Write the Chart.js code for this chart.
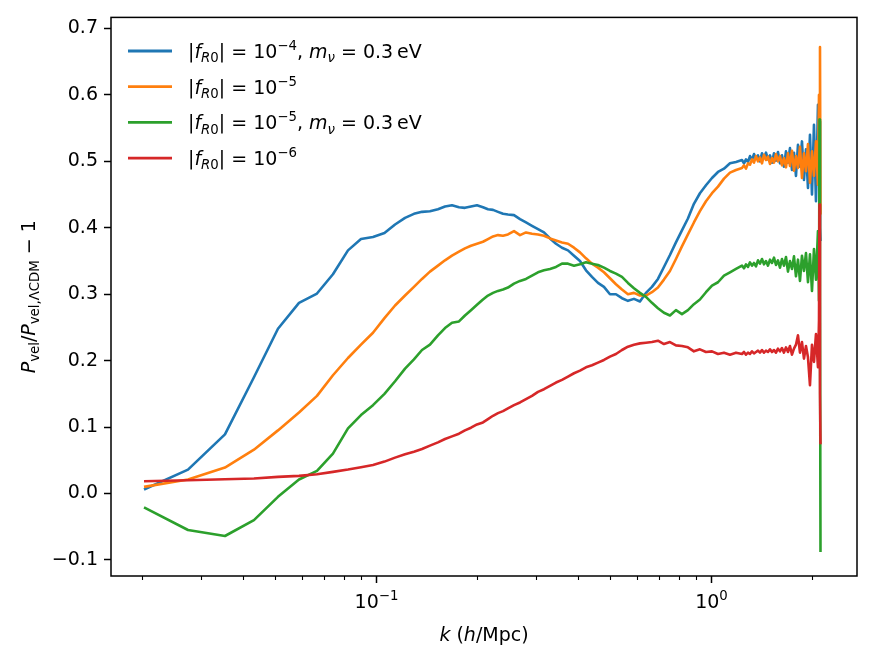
<!DOCTYPE html>
<html>
<head>
<meta charset="utf-8">
<script src="https://cdn.jsdelivr.net/npm/chart.js@4.4.0/dist/chart.umd.min.js"></script>
<style>
  body { margin: 0; background: #fff; }
  canvas { display: block; }
</style>
</head>
<body>
<canvas id="chart" width="878" height="661"></canvas>
<script>
'use strict';

// k values (h/Mpc), shared by all four curves; denser in the noisy tail
var kValues = [
  0.02030, 0.02747, 0.03541, 0.04322, 0.05098, 0.05891, 0.06666, 0.07439, 0.08249, 0.09020,
  0.09796, 0.1060, 0.1140, 0.1221, 0.1298, 0.1372, 0.1449, 0.1531, 0.1607, 0.1686,
  0.1769, 0.1843, 0.1921, 0.2002, 0.2086, 0.2159, 0.2235, 0.2313, 0.2394, 0.2477,
  0.2582, 0.2691, 0.2804, 0.2922, 0.3045, 0.3173, 0.3307, 0.3446, 0.3591, 0.3742,
  0.3900, 0.4064, 0.4235, 0.4413, 0.4599, 0.4792, 0.4994, 0.5204, 0.5423, 0.5651,
  0.5889, 0.6137, 0.6395, 0.6664, 0.6945, 0.7237, 0.7542, 0.7859, 0.8190, 0.8534,
  0.8893, 0.9268, 0.9661, 1.0069, 1.0493, 1.0935, 1.1395, 1.1875,
  1.2374, 1.2545, 1.2719, 1.2895, 1.3073, 1.3254, 1.3438, 1.3624, 1.3812, 1.4003,
  1.4197, 1.4394, 1.4593, 1.4795, 1.5000, 1.5207, 1.5418, 1.5631, 1.5847, 1.6067,
  1.6289, 1.6514, 1.6743, 1.6975, 1.7210, 1.7448, 1.7690, 1.7934, 1.8183, 1.8434,
  1.8689, 1.8948, 1.9210, 1.9476, 1.9745, 2.0019, 2.0296, 2.0577, 2.0861,
  2.1008, 2.1080, 2.1153, 2.1226
];

var fR4nu = [
  0.006, 0.036, 0.089, 0.175, 0.248, 0.287, 0.301, 0.330, 0.366, 0.383,
  0.386, 0.392, 0.405, 0.415, 0.421, 0.424, 0.425, 0.428, 0.432, 0.434,
  0.431, 0.430, 0.432, 0.434, 0.431, 0.428, 0.427, 0.424, 0.421, 0.420,
  0.419, 0.413, 0.408, 0.403, 0.398, 0.393, 0.384, 0.376, 0.370, 0.366,
  0.358, 0.350, 0.336, 0.326, 0.317, 0.311, 0.300, 0.300, 0.294, 0.290,
  0.293, 0.289, 0.302, 0.311, 0.323, 0.341, 0.359, 0.378, 0.396, 0.414,
  0.436, 0.452, 0.464, 0.475, 0.484, 0.489, 0.497, 0.499,
  0.502, 0.497, 0.503, 0.499, 0.508, 0.502, 0.511, 0.504, 0.509, 0.500,
  0.512, 0.505, 0.513, 0.503, 0.509, 0.498, 0.512, 0.501, 0.514, 0.497,
  0.509, 0.492, 0.515, 0.498, 0.520, 0.487, 0.513, 0.478, 0.525, 0.492,
  0.530, 0.472, 0.518, 0.460, 0.540, 0.450, 0.555, 0.440, 0.585,
  0.470, 0.560, 0.400, 0.380
];

var fR5 = [
  0.010, 0.021, 0.039, 0.066, 0.095, 0.122, 0.147, 0.178, 0.204, 0.224,
  0.242, 0.264, 0.283, 0.298, 0.311, 0.323, 0.334, 0.343, 0.351, 0.358,
  0.364, 0.369, 0.373, 0.376, 0.379, 0.383, 0.387, 0.389, 0.388, 0.390,
  0.395, 0.389, 0.393, 0.391, 0.390, 0.388, 0.384, 0.381, 0.378, 0.376,
  0.370, 0.363, 0.354, 0.346, 0.340, 0.333, 0.324, 0.315, 0.307, 0.300,
  0.302, 0.298, 0.298, 0.303, 0.310, 0.322, 0.335, 0.353, 0.372, 0.390,
  0.408, 0.425, 0.440, 0.452, 0.462, 0.474, 0.483, 0.487,
  0.490, 0.494, 0.489, 0.497, 0.495, 0.503, 0.498, 0.508, 0.500, 0.506,
  0.497, 0.510, 0.502, 0.507, 0.496, 0.505, 0.498, 0.511, 0.500, 0.508,
  0.494, 0.505, 0.491, 0.512, 0.493, 0.516, 0.486, 0.508, 0.490, 0.522,
  0.475, 0.512, 0.485, 0.526, 0.468, 0.515, 0.478, 0.530, 0.465,
  0.600, 0.470, 0.672, 0.420
];

var fR5nu = [
  -0.021, -0.055, -0.064, -0.040, -0.005, 0.021, 0.034, 0.060, 0.098, 0.118,
  0.133, 0.150, 0.169, 0.188, 0.202, 0.216, 0.224, 0.238, 0.249, 0.257,
  0.259, 0.268, 0.276, 0.284, 0.292, 0.298, 0.302, 0.305, 0.307, 0.310,
  0.316, 0.320, 0.323, 0.328, 0.333, 0.336, 0.338, 0.341, 0.346, 0.346,
  0.343, 0.345, 0.348, 0.346, 0.344, 0.340, 0.335, 0.331, 0.326, 0.317,
  0.309, 0.302, 0.296, 0.287, 0.279, 0.272, 0.268, 0.276, 0.270, 0.276,
  0.285, 0.292, 0.303, 0.313, 0.318, 0.328, 0.333, 0.338,
  0.343, 0.339, 0.345, 0.341, 0.348, 0.343, 0.347, 0.342, 0.351, 0.346,
  0.353, 0.345, 0.350, 0.343, 0.352, 0.347, 0.355, 0.344, 0.351, 0.340,
  0.353, 0.343, 0.356, 0.334, 0.350, 0.338, 0.357, 0.327, 0.352, 0.320,
  0.358, 0.335, 0.362, 0.318, 0.360, 0.305, 0.368, 0.322, 0.395,
  0.290, 0.563, 0.300, -0.088
];

var fR6 = [
  0.0185, 0.020, 0.0215, 0.0225, 0.025, 0.0265, 0.029, 0.0325, 0.036, 0.0395,
  0.043, 0.048, 0.054, 0.059, 0.063, 0.067, 0.072, 0.077, 0.082, 0.086,
  0.090, 0.095, 0.099, 0.104, 0.107, 0.112, 0.117, 0.121, 0.124, 0.128,
  0.133, 0.137, 0.142, 0.147, 0.153, 0.157, 0.162, 0.167, 0.171, 0.176,
  0.181, 0.185, 0.190, 0.193, 0.197, 0.201, 0.206, 0.210, 0.216, 0.221,
  0.224, 0.226, 0.227, 0.228, 0.230, 0.225, 0.228, 0.223, 0.222, 0.220,
  0.214, 0.217, 0.213, 0.214, 0.210, 0.212, 0.209, 0.212,
  0.210, 0.213, 0.209, 0.212, 0.210, 0.214, 0.211, 0.213, 0.215, 0.212,
  0.216, 0.212, 0.215, 0.213, 0.217, 0.213, 0.216, 0.212, 0.218, 0.214,
  0.219, 0.212, 0.220, 0.213, 0.222, 0.209, 0.218, 0.224, 0.238, 0.212,
  0.228, 0.203, 0.222, 0.205, 0.163, 0.224, 0.198, 0.240, 0.190,
  0.260, 0.435, 0.150, 0.074
];

var seriesLabels = [
  '|fR0| = 1e-4, mν = 0.3 eV',
  '|fR0| = 1e-5',
  '|fR0| = 1e-5, mν = 0.3 eV',
  '|fR0| = 1e-6'
];
var seriesColors = ['#1f77b4', '#ff7f0e', '#2ca02c', '#d62728'];

var yTicks = [-0.1, 0.0, 0.1, 0.2, 0.3, 0.4, 0.5, 0.6, 0.7];
var xMajorTicks = [0.1, 1];
var xMinorTicks = [0.02, 0.03, 0.04, 0.05, 0.06, 0.07, 0.08, 0.09,
                   0.2, 0.3, 0.4, 0.5, 0.6, 0.7, 0.8, 0.9, 2];

// rich text pieces for the mathtext-like labels
var legendText = [
  [{t: '|'}, {t: 'f', it: 1}, {t: 'R', it: 1, sub: 1}, {t: '0', sub: 1}, {t: '| = 10'}, {t: '\u22124', sup: 1},
   {t: ', '}, {t: 'm', it: 1}, {t: '\u03bd', it: 1, sub: 1}, {t: ' = 0.3\u2009eV'}],
  [{t: '|'}, {t: 'f', it: 1}, {t: 'R', it: 1, sub: 1}, {t: '0', sub: 1}, {t: '| = 10'}, {t: '\u22125', sup: 1}],
  [{t: '|'}, {t: 'f', it: 1}, {t: 'R', it: 1, sub: 1}, {t: '0', sub: 1}, {t: '| = 10'}, {t: '\u22125', sup: 1},
   {t: ', '}, {t: 'm', it: 1}, {t: '\u03bd', it: 1, sub: 1}, {t: ' = 0.3\u2009eV'}],
  [{t: '|'}, {t: 'f', it: 1}, {t: 'R', it: 1, sub: 1}, {t: '0', sub: 1}, {t: '| = 10'}, {t: '\u22126', sup: 1}]
];
var xTitle = [{t: 'k', it: 1}, {t: ' ('}, {t: 'h', it: 1}, {t: '/Mpc)'}];
var yTitle = [{t: 'P', it: 1}, {t: 'vel', sub: 1}, {t: '/'}, {t: 'P', it: 1}, {t: 'vel,\u039bCDM', sub: 1}, {t: ' \u2212 1'}];
var xTickText = {
  0.1: [{t: '10'}, {t: '\u22121', sup: 1}],
  1: [{t: '10'}, {t: '0', sup: 1}]
};

var FONT = '"DejaVu Sans"';
var FS = 19;

var richText = function (ctx, x, y, segs, size, draw) {
  var cx = x;
  segs.forEach(function (s) {
    var small = s.sub || s.sup;
    var sz = small ? size * 0.7 : size;
    var dy = s.sub ? size * 0.22 : (s.sup ? -size * 0.42 : 0);
    ctx.font = (s.it ? 'italic ' : '') + sz + 'px ' + FONT;
    if (draw) {
      ctx.fillText(s.t, cx, y + dy);
    }
    cx += ctx.measureText(s.t).width;
  });
  return cx - x;
};

var decorPlugin = {
  id: 'decor',
  beforeDraw: function (chart) {
    var ctx = chart.ctx;
    ctx.save();
    ctx.fillStyle = '#fff';
    ctx.fillRect(0, 0, chart.width, chart.height);
    ctx.restore();
  },
  afterDatasetsDraw: function (chart) {
    var ctx = chart.ctx;
    var a = chart.chartArea;
    var xs = chart.scales.x;
    ctx.save();
    ctx.strokeStyle = '#000';
    ctx.fillStyle = '#000';
    ctx.textAlign = 'left';
    ctx.textBaseline = 'alphabetic';

    // axes box
    ctx.lineWidth = 1.5;
    ctx.strokeRect(a.left, a.top, a.right - a.left, a.bottom - a.top);

    // x ticks
    xMinorTicks.forEach(function (v) {
      var px = Math.round(xs.getPixelForValue(v)) + 0.5;
      ctx.lineWidth = 1.1;
      ctx.beginPath();
      ctx.moveTo(px, a.bottom);
      ctx.lineTo(px, a.bottom + 4);
      ctx.stroke();
    });
    xMajorTicks.forEach(function (v) {
      var px = Math.round(xs.getPixelForValue(v)) + 0.5;
      ctx.lineWidth = 1.5;
      ctx.beginPath();
      ctx.moveTo(px, a.bottom);
      ctx.lineTo(px, a.bottom + 7);
      ctx.stroke();
      var w = richText(ctx, 0, 0, xTickText[v], FS, false);
      richText(ctx, px - w / 2, a.bottom + 32, xTickText[v], FS, true);
    });

    // x title
    var wx = richText(ctx, 0, 0, xTitle, FS, false);
    richText(ctx, (a.left + a.right) / 2 - wx / 2, 641, xTitle, FS, true);

    // y title, rotated
    var wy = richText(ctx, 0, 0, yTitle, FS, false);
    ctx.save();
    ctx.translate(35, (a.top + a.bottom) / 2);
    ctx.rotate(-Math.PI / 2);
    richText(ctx, -wy / 2, 0, yTitle, FS, true);
    ctx.restore();

    // legend
    legendText.forEach(function (segs, i) {
      var y = 51 + i * 35.7;
      ctx.strokeStyle = seriesColors[i];
      ctx.lineWidth = 2.8;
      ctx.beginPath();
      ctx.moveTo(128, y);
      ctx.lineTo(172, y);
      ctx.stroke();
      ctx.fillStyle = '#000';
      richText(ctx, 188, y + 7, segs, FS, true);
    });
    ctx.restore();
  }
};

var series = [fR4nu, fR5, fR5nu, fR6];
var datasets = series.map(function (vals, i) {
  return {
    label: seriesLabels[i],
    data: kValues.map(function (k, j) { return {x: k, y: vals[j]}; }),
    borderColor: seriesColors[i],
    backgroundColor: seriesColors[i],
    borderWidth: 2.6,
    borderJoinStyle: 'round',
    pointRadius: 0,
    tension: 0,
    fill: false,
    order: 3 - i
  };
});

var chart = new Chart(document.getElementById('chart').getContext('2d'), {
  type: 'line',
  data: {datasets: datasets},
  options: {
    responsive: false,
    animation: false,
    devicePixelRatio: 1,
    layout: {padding: {top: 16, right: 21, left: 0, bottom: 0}},
    plugins: {legend: {display: false}, tooltip: {enabled: false}},
    scales: {
      x: {
        type: 'logarithmic',
        min: 0.01618,
        max: 2.728,
        ticks: {display: false},
        grid: {display: false},
        border: {display: false},
        afterFit: function (s) { s.height = 85; }
      },
      y: {
        type: 'linear',
        min: -0.1242,
        max: 0.7167,
        afterBuildTicks: function (s) {
          s.ticks = yTicks.map(function (v) { return {value: v}; });
        },
        afterFit: function (s) { s.width = 111; },
        ticks: {
          autoSkip: false,
          color: '#000',
          padding: 6,
          font: {family: 'DejaVu Sans', size: FS},
          callback: function (v) { return v.toFixed(1).replace('-', '\u2212'); }
        },
        grid: {
          drawOnChartArea: false,
          drawTicks: true,
          tickLength: 7,
          tickWidth: 1.5,
          tickColor: '#000'
        },
        border: {display: false}
      }
    }
  },
  plugins: [decorPlugin]
});
</script>
</body>
</html>
